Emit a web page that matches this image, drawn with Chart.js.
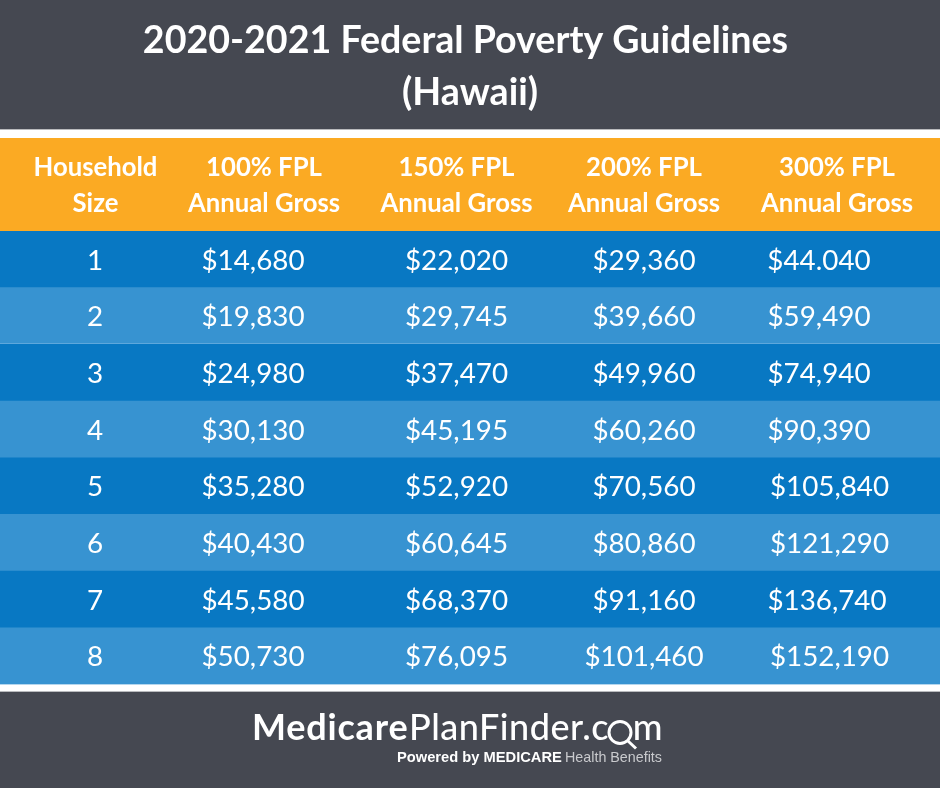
<!DOCTYPE html>
<html>
<head>
<meta charset="utf-8">
<title>2020-2021 Federal Poverty Guidelines (Hawaii)</title>
<script src="https://cdn.jsdelivr.net/npm/chart.js@4/dist/chart.umd.min.js"></script>
<style>
    html, body { margin: 0; padding: 0; background: #fff; }
    canvas { display: block; }
</style>
</head>
<body>
<canvas id="table" width="940" height="788"></canvas>
<script>
"use strict";
// table contents
const titleLines = ["2020-2021 Federal Poverty Guidelines", "(Hawaii)"];
const headerTop = ["Household", "100% FPL", "150% FPL", "200% FPL", "300% FPL"];
const headerBottom = ["Size", "Annual Gross", "Annual Gross", "Annual Gross", "Annual Gross"];
const householdSizes = ["1", "2", "3", "4", "5", "6", "7", "8"];
const fpl100 = ["$14,680", "$19,830", "$24,980", "$30,130", "$35,280", "$40,430", "$45,580", "$50,730"];
const fpl150 = ["$22,020", "$29,745", "$37,470", "$45,195", "$52,920", "$60,645", "$68,370", "$76,095"];
const fpl200 = ["$29,360", "$39,660", "$49,960", "$60,260", "$70,560", "$80,860", "$91,160", "$101,460"];
const fpl300 = ["$44.040", "$59,490", "$74,940", "$90,390", "$105,840", "$121,290", "$136,740", "$152,190"];
const rowShare = [1, 1, 1, 1, 1, 1, 1, 1];

// colours
const DARK = "#454851", ORANGE = "#fbaa23", BLUE = "#0878c3", LIGHT = "#3793d1";

// where the text sits, px on the 940 wide page
const titleCentres = [465.5, 470];
const headerCentres = [95.5, 264, 456.5, 644, 837];
const sizeCentre = 95, col100 = 253, col150 = 456.5, col200 = 644;
const col300 = [819, 819, 819, 819, 829.5, 829.5, 827, 829.5];

const cellText = {
    id: "cellText",
    beforeDraw: function (chart) {
        const ctx = chart.ctx, area = chart.chartArea;
        ctx.save();
        ctx.fillStyle = "#fff";
        ctx.fillRect(0, 0, 940, 788);
        ctx.fillStyle = DARK;
        ctx.fillRect(0, 0, 940, 129);
        ctx.fillRect(0, 692, 940, 96);
        ctx.fillStyle = "#b9babd";
        ctx.fillRect(0, 129, 940, 1);
        ctx.fillRect(0, 691, 940, 1);
        ctx.fillStyle = ORANGE;
        ctx.fillRect(0, 138, 940, area.top - 138);
        ctx.restore();
    },
    afterDraw: function (chart) {
        const ctx = chart.ctx, xs = chart.scales.x, ys = chart.scales.y;
        const px = function (v) { return xs.getPixelForValue(v / 940); };
        ctx.save();
        // thin light seam between rows 2 and 3
        ctx.fillStyle = "#5ea8dc";
        ctx.fillRect(0, 343, 940, 1);

        ctx.fillStyle = "#fff";
        ctx.textAlign = "center";
        ctx.textBaseline = "middle";

        ctx.font = "bold 37.6px Lato";
        titleLines.forEach(function (line, i) {
            ctx.fillText(line, titleCentres[i], 41 + i * 52);
        });

        ctx.font = "bold 25.7px Lato";
        headerCentres.forEach(function (c, i) {
            ctx.fillText(headerTop[i], px(c), 168);
            ctx.fillText(headerBottom[i], px(c), 204);
        });

        ctx.font = "27.8px Lato";
        householdSizes.forEach(function (size, i) {
            const y = ys.getPixelForValue(i) + 1.3;
            ctx.fillText(size, px(sizeCentre), y);
            ctx.fillText(fpl100[i], px(col100), y);
            ctx.fillText(fpl150[i], px(col150), y);
            ctx.fillText(fpl200[i], px(col200), y);
            ctx.fillText(fpl300[i], px(col300[i]), y);
        });

        // footer logo
        ctx.textAlign = "left";
        ctx.textBaseline = "alphabetic";
        ctx.letterSpacing = "0.8px";
        ctx.font = "bold 36px Lato";
        ctx.fillText("Medicare", 252, 740);
        ctx.letterSpacing = "0.5px";
        ctx.font = "500 36px Lato";
        ctx.fillText("PlanFinder.c", 409, 740);
        ctx.textAlign = "right";
        ctx.fillText("m", 663, 740);
        ctx.letterSpacing = "0px";
        ctx.strokeStyle = "#fff";
        ctx.lineWidth = 3;
        ctx.beginPath();
        ctx.arc(620, 732.5, 11, 0, Math.PI * 2);
        ctx.moveTo(628, 741);
        ctx.lineTo(636, 748.5);
        ctx.stroke();

        ctx.textAlign = "left";
        ctx.font = "bold 14.7px 'Liberation Sans'";
        ctx.fillText("Powered by MEDICARE", 397, 762);
        ctx.font = "14.3px 'Liberation Sans'";
        ctx.fillStyle = "#c9cacd";
        ctx.fillText("Health Benefits", 565, 762);
        ctx.restore();
    }
};

const chart = new Chart(document.getElementById("table").getContext("2d"), {
    type: "bar",
    data: {
        labels: householdSizes,
        datasets: [{
            data: rowShare,
            backgroundColor: householdSizes.map(function (s, i) { return i % 2 ? LIGHT : BLUE; }),
            barPercentage: 1,
            categoryPercentage: 1,
            borderWidth: 0
        }]
    },
    options: {
        indexAxis: "y",
        responsive: false,
        animation: false,
        devicePixelRatio: 1,
        layout: { padding: { top: 231, left: 0, right: 0, bottom: 103.5 } },
        scales: {
            x: { display: false, min: 0, max: 1 },
            y: { display: false }
        },
        plugins: {
            legend: { display: false },
            tooltip: { enabled: false },
            title: { display: false }
        }
    },
    plugins: [cellText]
});
</script>
</body>
</html>
